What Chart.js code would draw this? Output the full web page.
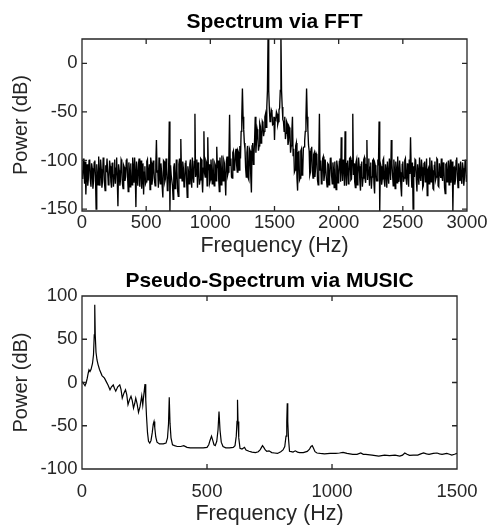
<!DOCTYPE html>
<html><head><meta charset="utf-8">
<script src="https://cdn.jsdelivr.net/npm/chart.js@4.4.1/dist/chart.umd.min.js"></script>
<style>
html,body{margin:0;padding:0;background:#fff;overflow:hidden;width:489px;height:525px}
canvas{display:block;position:absolute;left:0}
#c1{top:0}
#c2{top:265px}
</style></head><body>
<canvas id="c1" width="489" height="265"></canvas>
<canvas id="c2" width="489" height="260"></canvas>
<script>
// ---------- data ----------
const fftStepHz = 5;
const fftPowerDb = [
  -110,-119,-98,-106,-124,-101,-135,-115,-104,-126,-118,-100,-99,-120,-127,-103,-108,-129,-121,-102,
  -100,-117,-150,-104,-113,-125,-96,-118,-126,-99,-109,-128,-121,-97,-101,-123,-131,-105,-112,-98,
  -98,-125,-119,-100,-106,-122,-128,-103,-102,-127,-115,-99,-124,-108,-97,-121,-147,-104,-110,-126,
  -120,-99,-101,-124,-129,-105,-107,-121,-117,-100,-98,-116,-132,-102,-111,-127,-103,-118,-125,-97,
  -109,-123,-97,-114,-148,-101,-116,-126,-104,-98,-127,-110,-100,-129,-119,-103,-135,-112,-106,-124,
  -122,-101,-99,-120,-113,-104,-130,-97,-102,-125,-118,-100,-108,-121,-126,-105,-79,-112,-110,-128,
  -97,-118,-124,-103,-112,-127,-138,-100,-101,-122,-119,-98,-106,-131,-128,-109,-60,-152,-105,-115,
  -115,-126,-140,-107,-103,-129,-126,-99,-110,-131,-137,-104,-98,-118,-78,-112,-121,-101,-108,-127,
  -125,-103,-100,-121,-138,-106,-112,-124,-104,-99,-119,-128,-97,-115,-123,-101,-52,-117,-112,-99,
  -128,-102,-106,-125,-120,-98,-99,-119,-133,-108,-70,-113,-117,-100,-102,-126,-76,-110,-104,-123,
  -120,-99,-111,-124,-98,-117,-126,-103,-105,-121,-86,-108,-100,-119,-132,-97,-109,-125,-95,-113,
  -121,-100,-103,-119,-136,-101,-96,-115,-112,-94,-53,-105,-98,-117,-118,-92,-90,-110,-108,-93,
  -88,-105,-112,-90,-92,-110,-85,-98,-70,-55,-26,-55,-68,-82,-88,-108,-117,-92,-85,-118,
  -120,-88,-90,-116,-133,-85,-82,-104,-95,-78,-55,-92,-80,-68,-72,-90,-85,-62,-65,-82,
  -78,-60,-62,-75,-70,-55,-52,-66,-45,-28,30,-28,-47,-60,-56,-48,-50,-63,-62,-55,
  -79,-57,-58,-50,-52,-63,-60,-48,-46,-28,30,-28,-45,-58,-60,-70,-55,-78,-72,-60,
  -62,-84,-80,-66,-68,-92,-85,-70,-55,-95,-88,-112,-110,-85,-82,-118,-131,-92,-90,-120,
  -118,-90,-88,-115,-112,-87,-86,-80,-70,-55,-26,-55,-68,-84,-90,-115,-112,-88,-86,-110,
  -118,-94,-92,-117,-108,-93,-95,-120,-125,-97,-52,-110,-100,-124,-122,-98,-96,-121,-115,-99,
  -99,-120,-127,-103,-104,-125,-118,-98,-97,-116,-124,-102,-110,-128,-101,-119,-130,-100,-106,-123,
  -115,-101,-98,-122,-76,-109,-121,-99,-104,-126,-70,-112,-126,-103,-100,-124,-117,-98,-97,-120,
  -119,-100,-52,-115,-103,-122,-128,-102,-99,-125,-114,-97,-106,-121,-131,-104,-101,-127,-118,-99,
  -97,-118,-123,-104,-79,-120,-110,-98,-126,-107,-102,-129,-117,-100,-99,-124,-134,-105,-108,-121,
  -121,-99,-105,-60,-152,-103,-106,-125,-119,-100,-98,-121,-127,-104,-110,-128,-101,-115,-124,-98,
  -105,-120,-79,-103,-115,-126,-99,-110,-129,-101,-108,-123,-96,-117,-122,-100,-112,-127,-137,-104,
  -101,-122,-118,-100,-98,-119,-125,-103,-111,-127,-99,-114,-76,-108,-128,-102,-150,-106,-117,-99,
  -100,-119,-132,-104,-113,-125,-97,-116,-121,-99,-107,-128,-126,-103,-101,-122,-115,-98,-136,-110,
  -108,-124,-97,-113,-122,-100,-110,-129,-130,-105,-101,-120,-117,-98,-99,-126,-127,-103,-112,-118,
  -98,-117,-121,-102,-106,-128,-134,-104,-103,-122,-116,-100,-125,-109,-99,-123,-111,-101,-152,-108,
  -107,-125,-120,-100,-97,-116,-128,-103,-112,-121,-101,-119,-124,-102,-108,-126,-118,-100,-99,-122,
  -115
];
const fftFreqHz = fftPowerDb.map((_, i) => i * fftStepHz);
const fftTicksX = [0, 500, 1000, 1500, 2000, 2500, 3000];
const fftTicksY = [-150, -100, -50, 0];

const musicFreqHz = [
  0,3,8,12,17,21,25,28,32,36,42,46,49,51,53,56,60,64,70,80,90,97,104,112,118,125,130,135,143,151,
  156,161,168,174,179,184,190,196,201,206,211,215,220,226,232,239,243,248,252,255,258,262,266,271,276,281,285,288,291,295,
  300,310,325,336,342,346,349,352,356,362,370,381,395,407,420,433,460,485,500,507,512,518,523,528,533,539,544,548,552,557,
  564,575,590,605,612,617,620,622,624,627,632,640,650,656,668,680,694,705,713,718,722,727,733,739,748,759,770,782,795,804,
  811,816,819,821,823,826,830,837,844,853,862,870,885,901,910,916,921,926,932,940,953,970,992,1015,1030,1044,1060,1083,1100,1115,
  1125,1135,1160,1187,1210,1230,1252,1271,1282,1291,1300,1310,1325,1343,1355,1366,1378,1388,1405,1420,1430,1440,1450,1459,1470,1479,1490,1500
];
const musicPowerDb = [
  1,0,-2,-3.8,0,5,11,14.6,12.7,15,22,32,55,90,55,35,26,21,15,8,5,1,-3,-8.4,-5,-2.7,-7,-10,-5,-2.7,
  -8,-18,-12,-8.4,-14,-25.7,-20,-16,-21,-29.6,-24,-18,-24,-34.6,-28,-15.4,-26,-12,-1.9,-20,-39,-58,-68,-70,-67,-58,-48,-45,-52,-63,
  -69,-71,-71,-70,-64,-48,-17,-47,-64,-72,-73,-74,-74,-73,-75,-75.6,-75.6,-75.6,-75,-72,-67,-62,-67,-72,-73,-68,-55,-33.5,-55,-69,
  -74,-75.5,-75.6,-75,-73,-62,-45,-20,-45,-64,-76,-77,-75,-78,-79.5,-80.5,-81,-80,-77.5,-75,-73,-75,-78,-79.5,-79,-81,-81.5,-82,-80,-78,
  -74,-62,-45,-24,-45,-65,-79.5,-80,-80.5,-79,-80.5,-81,-81,-79.6,-77,-74,-73,-76,-80,-81.5,-82,-82.5,-82,-82,-81.5,-80.8,-82,-83,-83,-81.5,
  -83,-83,-84,-85,-84,-84.5,-84,-85,-84,-81.5,-83,-84.3,-84,-84,-82.5,-81.5,-82.5,-83,-82,-81.5,-82.5,-83,-82.5,-82,-83,-84,-83,-82
];
const musicTicksX = [0, 500, 1000, 1500];
const musicTicksY = [-100, -50, 0, 50, 100];

// ---------- styling ----------
const INK = '#262626';
const FONT = "'Liberation Sans', Arial, Helvetica, sans-serif";

const matlabBox = {
  id: 'matlabBox',
  afterDatasetsDraw(chart) {
    const {ctx, chartArea: a, scales: {x, y}} = chart;
    const L = a.left, R = a.right, T = a.top, B = a.bottom, tl = 5;
    ctx.save();
    ctx.strokeStyle = INK;
    ctx.lineWidth = 1.3;
    ctx.beginPath();
    ctx.rect(L, T, R - L, B - T);
    x.ticks.forEach(t => {
      const p = x.getPixelForValue(t.value);
      ctx.moveTo(p, B); ctx.lineTo(p, B - tl);
      ctx.moveTo(p, T); ctx.lineTo(p, T + tl);
    });
    y.ticks.forEach(t => {
      const p = y.getPixelForValue(t.value);
      ctx.moveTo(L, p); ctx.lineTo(L + tl, p);
      ctx.moveTo(R, p); ctx.lineTo(R - tl, p);
    });
    ctx.stroke();
    ctx.restore();
  }
};

function makeChart(id, c) {
  return new Chart(document.getElementById(id), {
    type: 'line',
    data: { datasets: [{ data: c.points, borderColor: '#000', borderWidth: c.lw, pointRadius: 0, tension: 0, fill: false }] },
    options: {
      responsive: false, animation: false, events: [],
      layout: { padding: { left: 0, right: 22, top: 0, bottom: 0 } },
      plugins: {
        legend: { display: false }, tooltip: { enabled: false },
        title: { display: true, text: c.title, fullSize: false, color: '#000',
                 font: { family: FONT, size: 21, weight: 'bold', lineHeight: 1.2 }, padding: c.titlePad }
      },
      scales: {
        x: {
          type: 'linear', min: c.xMin, max: c.xMax,
          grid: { display: false, drawTicks: false }, border: { display: false },
          afterBuildTicks: s => { s.ticks = c.xTicks.map(v => ({ value: v })); },
          afterFit: s => { s.height = c.xAxisH; },
          ticks: { color: INK, font: { family: FONT, size: 18.5 }, padding: c.xTickPad, maxRotation: 0, autoSkip: false, callback: v => String(v) },
          title: { display: true, text: 'Frequency (Hz)', color: INK, font: { family: FONT, size: 21.5, lineHeight: 1 }, padding: { top: 0, bottom: c.xTitlePadB } }
        },
        y: {
          type: 'linear', min: c.yMin, max: c.yMax,
          grid: { display: false, drawTicks: false }, border: { display: false },
          afterBuildTicks: s => { s.ticks = c.yTicks.map(v => ({ value: v })); },
          afterFit: s => { s.width = 82; },
          ticks: { color: INK, font: { family: FONT, size: 18.5 }, padding: 4.5, autoSkip: false, callback: v => String(v) },
          title: { display: true, text: 'Power (dB)', color: INK, font: { family: FONT, size: 20, lineHeight: 1 }, padding: { top: 11.3, bottom: 0 } }
        }
      }
    },
    plugins: [matlabBox]
  });
}

makeChart('c1', {
  points: fftFreqHz.map((f, i) => ({ x: f, y: fftPowerDb[i] })),
  lw: 1.35, title: 'Spectrum via FFT', titlePad: { top: 9.4, bottom: 4.4 },
  xMin: 0, xMax: 3000, xTicks: fftTicksX, yMin: -152, yMax: 25, yTicks: fftTicksY,
  xAxisH: 54, xTickPad: 0.5, xTitlePadB: 8.2
});

makeChart('c2', {
  points: musicFreqHz.map((f, i) => ({ x: f, y: musicPowerDb[i] })),
  lw: 1.2, title: 'Pseudo-Spectrum via MUSIC', titlePad: { top: 3.9, bottom: 1.9 },
  xMin: 0, xMax: 1500, xTicks: musicTicksX, yMin: -100, yMax: 100, yTicks: musicTicksY,
  xAxisH: 56, xTickPad: 11.4, xTitlePadB: 0.2
});
</script>
</body></html>
